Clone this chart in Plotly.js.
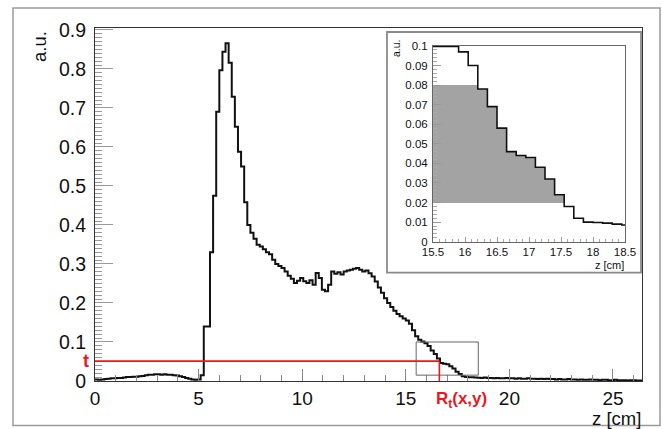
<!DOCTYPE html>
<html><head><meta charset="utf-8">
<script src="https://cdn.plot.ly/plotly-3.0.1.min.js"></script>
<style>html,body{margin:0;padding:0;background:#fff}#chart{width:663px;height:429px}</style>
</head><body><div id="chart"></div>
<script>
// ---- data ----
const binStart = 0;
const binWidth = 0.15;
const counts = [
 0.004,0.003,0.004,0.005,0.006,0.007,0.007,0.008,0.008,0.009,
 0.010,0.010,0.011,0.011,0.012,0.013,0.015,0.016,0.016,0.017,
 0.017,0.016,0.017,0.016,0.016,0.015,0.014,0.012,0.010,0.008,
 0.006,0.004,0.003,0.004,0.015,0.140,0.140,0.330,0.475,0.690,
 0.797,0.844,0.866,0.816,0.729,0.652,0.588,0.550,0.458,0.400,
 0.380,0.365,0.349,0.345,0.338,0.330,0.325,0.311,0.300,0.295,
 0.290,0.281,0.270,0.262,0.251,0.257,0.264,0.256,0.251,0.258,
 0.247,0.277,0.264,0.234,0.230,0.247,0.281,0.275,0.279,0.273,
 0.281,0.283,0.285,0.288,0.290,0.285,0.281,0.283,0.276,0.268,
 0.255,0.240,0.226,0.212,0.200,0.190,0.180,0.172,0.166,0.160,
 0.155,0.147,0.130,0.115,0.106,0.101,0.097,0.090,0.078,0.069,
 0.058,0.046,0.044,0.043,0.038,0.032,0.024,0.018,0.012,0.010,
 0.0098,0.0095,0.009,0.0085,0.008,0.009,0.008,0.008,0.007,0.008,
 0.007,0.007,0.008,0.007,0.007,0.006,0.007,0.006,0.006,0.007,
 0.006,0.006,0.005,0.006,0.005,0.006,0.005,0.005,0.004,0.005,
 0.004,0.004,0.005,0.004,0.004,0.003,0.004,0.003,0.003,0.004,
 0.003,0.003,0.002,0.003,0.003,0.002,0.002,0.003,0.002,0.002,
 0.002,0.001,0.002,0.002,0.001,0.001
];
const thresholdT = [0.051];
const rtPosition = [16.62];
const zoomBoxX = [15.5, 18.5];
const zoomBoxY = [0.015, 0.1];
const shadeBand = [0.02, 0.08];

const mainXRange = [0, 26.4];
const mainYRange = [0, 0.905];
const mainXTicks = [0, 5, 10, 15, 20, 25];
const mainXTickText = ['0', '5', '10', '15', '20', '25'];
const mainYTicks = [0, 0.1, 0.2, 0.3, 0.4, 0.5, 0.6, 0.7, 0.8, 0.9];
const mainYTickText = ['0', '0.1', '0.2', '0.3', '0.4', '0.5', '0.6', '0.7', '0.8', '0.9'];

const insetXRange = [15.5, 18.5];
const insetYRange = [0, 0.1];
const insetXTicks = [15.5, 16, 16.5, 17, 17.5, 18, 18.5];
const insetXTickText = ['15.5', '16', '16.5', '17', '17.5', '18', '18.5'];
const insetYTicks = [0, 0.01, 0.02, 0.03, 0.04, 0.05, 0.06, 0.07, 0.08, 0.09, 0.1];
const insetYTickText = ['0', '0.01', '0.02', '0.03', '0.04', '0.05', '0.06', '0.07', '0.08', '0.09', '0.1'];

// ---- derived ----
const edges = counts.map((_, i) => binStart + i * binWidth);
const stepX = edges.concat([binStart + counts.length * binWidth]);
const stepY = counts.concat([counts[counts.length - 1]]);
const insetStepY = stepY.map(v => Math.min(v, insetYRange[1] * 0.997));

const shadeX = [], shadeBase = [], shadeH = [];
counts.forEach((c, i) => {
  const center = edges[i] + binWidth / 2;
  if (center > insetXRange[0] - binWidth && center < insetXRange[1] && c > shadeBand[0]) {
    shadeX.push(center);
    shadeBase.push(shadeBand[0]);
    shadeH.push(Math.min(c, shadeBand[1]) - shadeBand[0]);
  }
});

const FONT = 'Liberation Sans, Arial, Helvetica, sans-serif';
const red = '#e8191f';

const traces = [
  {x: stepX, y: stepY, type: 'scatter', mode: 'lines', line: {shape: 'hv', color: '#111', width: 2},
   xaxis: 'x', yaxis: 'y', hoverinfo: 'skip', showlegend: false},
  {x: shadeX, y: shadeH, base: shadeBase, type: 'bar', width: binWidth,
   marker: {color: '#a3a3a3', line: {width: 0}}, xaxis: 'x2', yaxis: 'y2', hoverinfo: 'skip', showlegend: false},
  {x: stepX, y: insetStepY, type: 'scatter', mode: 'lines', line: {shape: 'hv', color: '#111', width: 1.6},
   xaxis: 'x2', yaxis: 'y2', hoverinfo: 'skip', showlegend: false}
];

// plot area in px: left 95, right 642, top 28, bottom 381.5
const L = 95, R = 642, T = 28, B = 381.5, W = 663, H = 429;
const px = v => (v - L) / (R - L);
const py = v => (B - v) / (B - T);

const layout = {
  width: W, height: H,
  margin: {l: L, r: W - R, t: T, b: H - B, pad: 0},
  paper_bgcolor: '#fff', plot_bgcolor: 'rgba(0,0,0,0)',
  showlegend: false, barmode: 'overlay', bargap: 0,
  font: {family: FONT, color: '#111'},
  xaxis: {domain: [0, 1], range: mainXRange, anchor: 'y', showgrid: false, zeroline: false,
    showline: true, linecolor: '#333', linewidth: 1, mirror: true,
    tickmode: 'array', tickvals: mainXTicks, ticktext: mainXTickText,
    ticks: 'inside', ticklen: 12, tickcolor: '#888', tickwidth: 1,
    minor: {ticks: 'inside', ticklen: 6, tickcolor: '#888', tickmode: 'linear', tick0: 0, dtick: 1},
    tickfont: {size: 19, family: FONT, color: '#111'}, ticklabelstandoff: 0},
  yaxis: {domain: [0, 1], range: mainYRange, anchor: 'x', showgrid: false, zeroline: false,
    showline: true, linecolor: '#333', linewidth: 1, mirror: true,
    tickmode: 'array', tickvals: mainYTicks, ticktext: mainYTickText,
    ticks: 'inside', ticklen: 18, tickcolor: '#999', tickwidth: 1,
    minor: {ticks: 'inside', ticklen: 7, tickcolor: '#999', tickmode: 'linear', tick0: 0, dtick: 0.01},
    tickfont: {size: 19.5, family: FONT, color: '#111'}, ticklabelstandoff: 4},
  xaxis2: {domain: [px(433), px(625)], range: insetXRange, anchor: 'y2', showgrid: false, zeroline: false,
    showline: true, linecolor: '#666', linewidth: 1, mirror: true,
    tickmode: 'array', tickvals: insetXTicks, ticktext: insetXTickText,
    ticks: 'inside', ticklen: 5, tickcolor: '#999',
    minor: {ticks: 'inside', ticklen: 3, tickcolor: '#aaa', tickmode: 'linear', tick0: 15.5, dtick: 0.1},
    tickfont: {size: 11.5, family: FONT, color: '#111'}, ticklabelstandoff: 0},
  yaxis2: {domain: [py(242), py(46)], range: insetYRange, anchor: 'x2', showgrid: false, zeroline: false,
    showline: true, linecolor: '#666', linewidth: 1, mirror: true,
    tickmode: 'array', tickvals: insetYTicks, ticktext: insetYTickText,
    ticks: 'inside', ticklen: 8, tickcolor: '#999',
    minor: {ticks: 'inside', ticklen: 4, tickcolor: '#aaa', tickmode: 'linear', tick0: 0, dtick: 0.002},
    tickfont: {size: 11.5, family: FONT, color: '#111'}, ticklabelstandoff: 2},
  shapes: [
    {type: 'rect', xref: 'paper', yref: 'paper', x0: px(13), x1: px(660), y0: py(426), y1: py(8),
     line: {color: '#9a9a9a', width: 1.5}, fillcolor: 'rgba(0,0,0,0)', layer: 'below'},
    {type: 'rect', xref: 'paper', yref: 'paper', x0: px(387), x1: px(641), y0: py(273), y1: py(32),
     line: {color: '#8a8a8a', width: 1.8}, fillcolor: '#ffffff', layer: 'below'},
    {type: 'rect', xref: 'x', yref: 'y', x0: zoomBoxX[0], x1: zoomBoxX[1], y0: zoomBoxY[0], y1: zoomBoxY[1],
     line: {color: '#666', width: 1}, fillcolor: 'rgba(0,0,0,0)', layer: 'above'},
    {type: 'line', xref: 'x', yref: 'y', x0: mainXRange[0], x1: rtPosition[0], y0: thresholdT[0], y1: thresholdT[0],
     line: {color: red, width: 1.6}, layer: 'above'},
    {type: 'line', xref: 'x', yref: 'y', x0: rtPosition[0], x1: rtPosition[0], y0: thresholdT[0], y1: -0.005,
     line: {color: red, width: 1.6}, layer: 'above'}
  ],
  annotations: [
    {text: 'a.u.', xref: 'paper', yref: 'paper', x: px(40), y: py(47), textangle: -90,
     showarrow: false, font: {size: 18.5, family: FONT, color: '#111'}, xanchor: 'center', yanchor: 'middle'},
    {text: 'z [cm]', xref: 'paper', yref: 'paper', x: px(643), y: py(419),
     showarrow: false, font: {size: 18.5, family: FONT, color: '#111'}, xanchor: 'right', yanchor: 'middle'},
    {text: '<b>t</b>', xref: 'paper', yref: 'y', x: px(91), y: thresholdT[0],
     showarrow: false, font: {size: 18, family: FONT, color: red}, xanchor: 'right', yanchor: 'middle'},
    {text: '<b>R<sub>t</sub>(x,y)</b>', xref: 'x', yref: 'paper', x: rtPosition[0] - 0.25, y: py(388),
     showarrow: false, font: {size: 17, family: FONT, color: red}, xanchor: 'left', yanchor: 'top'},
    {text: 'a.u.', xref: 'paper', yref: 'paper', x: px(396), y: py(48), textangle: -90,
     showarrow: false, font: {size: 10.5, family: FONT, color: '#111'}, xanchor: 'center', yanchor: 'middle'},
    {text: 'z [cm]', xref: 'paper', yref: 'paper', x: px(626), y: py(265),
     showarrow: false, font: {size: 11, family: FONT, color: '#111'}, xanchor: 'right', yanchor: 'middle'}
  ]
};

Plotly.newPlot('chart', traces, layout, {displayModeBar: false, staticPlot: true});
</script>
</body></html>
